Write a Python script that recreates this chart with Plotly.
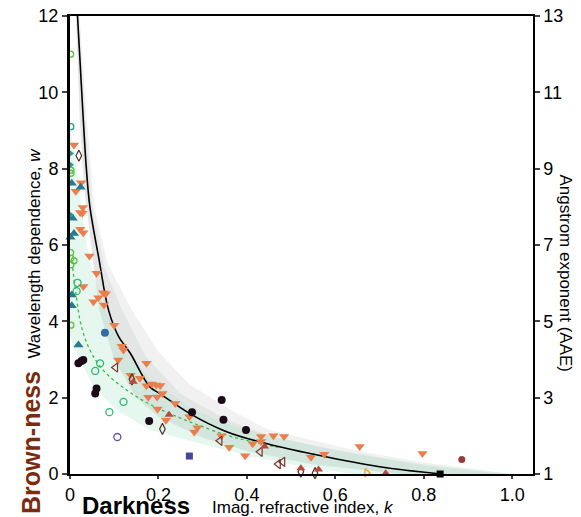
import plotly.graph_objects as go

# fitted curves
fit_k = [0.017, 0.029, 0.037, 0.045, 0.066, 0.087, 0.110, 0.136, 0.180, 0.204, 0.270, 0.354, 0.450, 0.550, 0.700, 0.840]
fit_w = [12.0, 9.5, 8.0, 7.0, 5.6, 4.3, 3.6, 3.17, 2.29, 2.1, 1.59, 1.11, 0.78, 0.52, 0.19, 0.0]

green_k = [0.006, 0.015, 0.025, 0.045, 0.075, 0.128, 0.185, 0.270, 0.354, 0.410, 0.470]
green_w = [5.4, 4.6, 3.9, 3.25, 2.72, 2.2, 1.8, 1.37, 1.02, 0.85, 0.70]

# uncertainty bands
outer_up_k = [0.022, 0.038, 0.055, 0.085, 0.140, 0.200, 0.270, 0.360, 0.450, 0.550, 0.660, 0.800, 1.000]
outer_up_w = [12.0, 9.3, 7.0, 5.5, 4.3, 3.2, 2.35, 1.7, 1.15, 0.88, 0.58, 0.3, 0.0]
inner_up_k = [0.019, 0.034, 0.050, 0.078, 0.118, 0.170, 0.250, 0.350, 0.450, 0.550, 0.660, 0.800, 0.970]
inner_up_w = [12.0, 9.3, 7.0, 5.4, 4.3, 3.1, 2.1, 1.45, 1.0, 0.75, 0.5, 0.22, 0.0]
grey_low_k = [0.013, 0.022, 0.032, 0.053, 0.066, 0.100, 0.150, 0.200, 0.300, 0.400, 0.550, 0.750]
grey_low_w = [12.0, 9.3, 7.5, 5.5, 4.3, 3.0, 2.0, 1.5, 0.95, 0.6, 0.25, 0.0]
mint_up_k = [0.0, 0.010, 0.020, 0.035, 0.050, 0.080, 0.120, 0.180, 0.270, 0.360, 0.450, 0.600, 0.800, 1.000]
mint_up_w = [9.0, 8.5, 7.5, 6.2, 5.3, 4.3, 3.3, 2.5, 1.75, 1.3, 1.0, 0.62, 0.25, 0.0]
mint_low_k = [0.0, 0.011, 0.053, 0.106, 0.181, 0.294, 0.410, 0.550, 0.640]
mint_low_w = [3.6, 3.25, 2.29, 1.68, 1.15, 0.8, 0.45, 0.15, 0.0]

# measurements
orange_k = [0.009, 0.025, 0.013, 0.029, 0.023, 0.028, 0.023, 0.030, 0.044, 0.060, 0.030, 0.053,
            0.064, 0.075, 0.081, 0.077, 0.100, 0.117, 0.121, 0.109, 0.173, 0.137, 0.158, 0.173,
            0.185, 0.195, 0.204, 0.177, 0.197, 0.209, 0.198, 0.238, 0.217, 0.270, 0.288, 0.281,
            0.342, 0.360, 0.396, 0.413, 0.432, 0.432, 0.460, 0.484, 0.545, 0.575, 0.655, 0.797]
orange_w = [8.62, 7.63, 7.41, 6.98, 6.85, 6.83, 6.41, 6.32, 5.71, 5.26, 4.91, 4.51,
            4.62, 4.75, 4.72, 4.43, 3.90, 3.35, 3.25, 2.99, 2.90, 2.59, 2.51, 2.31,
            2.36, 2.33, 2.32, 2.01, 2.02, 2.11, 1.70, 1.85, 1.41, 1.50, 1.21, 1.10,
            1.00, 0.70, 0.48, 0.79, 0.98, 0.85, 1.00, 0.98, 0.44, 0.52, 0.72, 0.54]
lime_k = [0.0015, 0.002, 0.002, 0.0015, 0.002, 0.002, 0.009, 0.002]
lime_w = [11.0, 7.96, 7.88, 5.8, 5.65, 5.48, 5.59, 3.9]
mgreen_k = [0.017, 0.015, 0.068, 0.057, 0.121, 0.089]
mgreen_w = [5.01, 4.79, 2.90, 2.70, 1.89, 1.62]
tgreen_k = [0.002]
tgreen_w = [9.1]
teal_up_k = [0.004, 0.024, 0.006, 0.009, 0.001, 0.004, 0.004, 0.019]
teal_up_w = [7.62, 7.51, 6.70, 6.30, 6.2, 4.69, 4.41, 3.38]
teal_rt_k = [0.0, 0.0, 0.0]
teal_rt_w = [8.4, 8.1, 6.79]
black_k = [0.019, 0.026, 0.030, 0.060, 0.057, 0.179, 0.276, 0.343, 0.347, 0.398]
black_w = [2.90, 2.96, 2.99, 2.24, 2.11, 1.39, 1.62, 1.94, 1.42, 1.15]
blue_k, blue_w = [0.079], [3.70]
purple_k, purple_w = [0.107], [0.97]
navy_k, navy_w = [0.270], [0.47]
diamond_k = [0.020, 0.140, 0.209, 0.522, 0.554]
diamond_w = [8.34, 2.48, 1.18, 0.06, 0.02]
tri_left_k = [0.103, 0.339, 0.430, 0.471, 0.481]
tri_left_w = [2.79, 0.87, 0.58, 0.26, 0.32]
red_k = [0.143, 0.224, 0.440, 0.522, 0.562, 0.714]
red_w = [2.42, 1.55, 0.72, 0.15, 0.12, 0.02]
maroon_k, maroon_w = [0.886], [0.38]
bsq_k, bsq_w = [0.837], [0.0]
otri_k, otri_w = [0.671], [0.03]

x_ticks = [0, 0.2, 0.4, 0.6, 0.8, 1.0]
x_ticktext = ["0", "0.2", "0.4", "0.6", "0.8", "1.0"]
y_ticks = [0, 2, 4, 6, 8, 10, 12]
aae_ticktext = ["1", "3", "5", "7", "9", "11", "13"]   # AAE = w + 1

FONT = "Liberation Sans, Arial, sans-serif"

fig = go.Figure()


def add_band(up_k, up_w, low_k, low_w, color):
    fig.add_trace(go.Scatter(
        x=up_k + low_k[::-1], y=up_w + low_w[::-1],
        fill="toself", fillcolor=color, mode="none",
        hoverinfo="skip", showlegend=False))


add_band(outer_up_k, outer_up_w, grey_low_k, grey_low_w, "rgba(215,215,215,0.35)")
add_band(inner_up_k, inner_up_w, grey_low_k, grey_low_w, "rgba(150,160,155,0.13)")
add_band(mint_up_k, mint_up_w, mint_low_k, mint_low_w, "rgba(175,230,205,0.32)")

fig.add_trace(go.Scatter(x=green_k, y=green_w, mode="lines", line_shape="spline",
                         line=dict(color="#3cbc3c", width=1.3, dash="dot"), showlegend=False))
fig.add_trace(go.Scatter(x=fit_k, y=fit_w, mode="lines", line_shape="spline",
                         line=dict(color="black", width=1.6), showlegend=False))


def add_pts(x, y, symbol, color, size=8, lw=0, yaxis="y"):
    fig.add_trace(go.Scatter(
        x=x, y=y, mode="markers", cliponaxis=False, showlegend=False, yaxis=yaxis,
        marker=dict(symbol=symbol, size=size, color=color,
                    line=dict(width=lw, color=color))))


add_pts(orange_k, orange_w, "triangle-down", "#ea7f4b", 9)
add_pts(lime_k, lime_w, "circle-open", "#56c23a", 6, 1.3)
add_pts(mgreen_k, mgreen_w, "circle-open", "#2cb86e", 7, 1.3)
add_pts(tgreen_k, tgreen_w, "circle-open", "#1ea592", 6, 1.3)
add_pts(teal_up_k, teal_up_w, "triangle-up", "#2b7a8c", 9)
add_pts(teal_rt_k, teal_rt_w, "triangle-right", "#2a9a96", 8)
add_pts(black_k, black_w, "circle", "#1c0a16", 8)
add_pts(blue_k, blue_w, "circle", "#3a6aa6", 8)
add_pts(purple_k, purple_w, "circle-open", "#6a4ea0", 7, 1.3)
add_pts(navy_k, navy_w, "square", "#47489c", 7)
add_pts(diamond_k, diamond_w, "diamond-tall-open", "#4a3028", 8, 1.2)
add_pts(tri_left_k, tri_left_w, "triangle-left-open", "#7a3528", 8, 1.2)
add_pts(red_k, red_w, "triangle-up", "#b84a3c", 8)
add_pts(maroon_k, maroon_w, "circle", "#9a3b3b", 7, yaxis="y2")
add_pts(bsq_k, bsq_w, "square", "black", 7)
add_pts(otri_k, otri_w, "triangle-right-open", "#f0a537", 7, 1.3)

# the page body has an 8px margin, so the figure is shrunk by that much
fig.update_layout(
    width=573, height=509,
    margin=dict(l=62, r=48, t=8, b=43, autoexpand=False),
    paper_bgcolor="white", plot_bgcolor="white",
    font=dict(family=FONT, size=18, color="black"),
    showlegend=False,
    xaxis=dict(range=[0, 1.047], tickvals=x_ticks, ticktext=x_ticktext,
               showline=True, linewidth=2, linecolor="black", mirror=True,
               ticks="outside", ticklen=3, tickwidth=1.5, showgrid=False, zeroline=False,
               tickfont=dict(size=18), automargin=False, ticklabeloverflow="allow"),
    yaxis=dict(range=[0, 12], tickvals=y_ticks,
               showline=True, linewidth=3, linecolor="black",
               ticks="outside", ticklen=5, tickwidth=1.5, showgrid=False, zeroline=False,
               tickfont=dict(size=18), automargin=False, ticklabeloverflow="allow"),
    yaxis2=dict(range=[0, 12], tickvals=y_ticks, ticktext=aae_ticktext,
                overlaying="y", side="right",
                showline=True, linewidth=1.5, linecolor="black",
                ticks="outside", ticklen=5, tickwidth=1.5, showgrid=False, zeroline=False,
                tickfont=dict(size=18), automargin=False, ticklabeloverflow="allow"),
)


def add_label(text, x, y, size, angle=0, color="black"):
    fig.add_annotation(text=text, xref="paper", yref="paper", x=x, y=y,
                       xanchor="center", yanchor="middle", textangle=angle,
                       showarrow=False, font=dict(family=FONT, size=size, color=color))


add_label("<b>Brown-ness</b>", -0.084, 0.068, 25, -90, "#7a2c10")
add_label("Wavelength dependence, <i>w</i>", -0.076, 0.483, 17, -90)
add_label("<b>Darkness</b>", 0.1425, -0.069, 24)
add_label("Imag. refractive index, <i>k</i>", 0.503, -0.074, 17)
add_label("Angstrom exponent (AAE)", 1.07, 0.439, 17, 90)

fig.write_html("out.html")
